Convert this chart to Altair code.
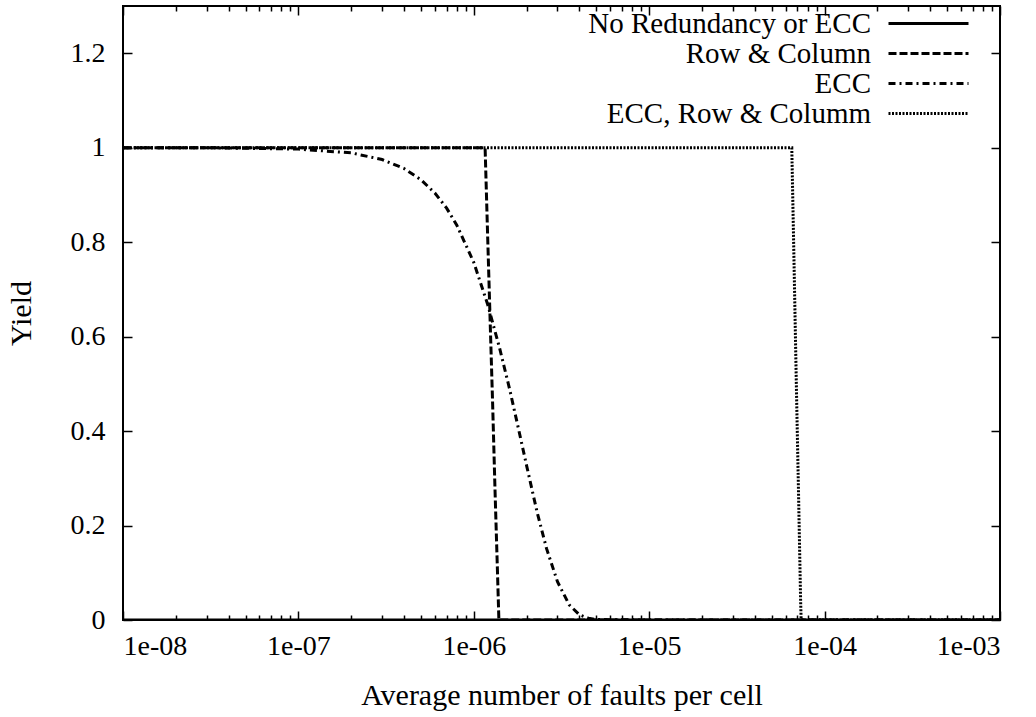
import altair as alt
import pandas as pd

# ---------------- data ----------------
series_names = ["No Redundancy or ECC", "Row & Column", "ECC", "ECC, Row & Columm"]

no_red_x = [1e-8, 1e-7, 1e-6, 1e-5, 1e-4, 1e-3]
no_red_y = [0, 0, 0, 0, 0, 0]

row_col_x = [1e-8, 1e-7, 5e-7, 1e-6, 1.16e-6, 1.20e-6, 1.24e-6, 1.28e-6, 1.32e-6,
             1.36e-6, 1.39e-6, 1e-5, 1e-4, 1e-3]
row_col_y = [1, 1, 1, 1, 1, 0.81, 0.63, 0.46, 0.28, 0.12, 0, 0, 0, 0]

ecc_x = [1e-8, 3e-8, 1e-7, 2e-7, 3e-7, 4e-7, 5e-7, 6e-7, 7e-7, 8e-7, 1e-6, 1.2e-6,
         1.4e-6, 1.6e-6, 1.8e-6, 2e-6, 2.3e-6, 2.6e-6, 3e-6, 3.5e-6, 4e-6, 4.5e-6,
         5e-6, 1e-5, 1e-4, 1e-3]
ecc_y = [1.0, 1.0, 0.997, 0.989, 0.975, 0.956, 0.932, 0.904, 0.872, 0.836, 0.757,
         0.668, 0.577, 0.489, 0.404, 0.327, 0.227, 0.151, 0.081, 0.032, 0.011, 0.004,
         0.001, 0, 0, 0]

ecr_x = [1e-8, 1e-7, 1e-6, 1e-5, 6.5e-5, 6.7e-5, 6.9e-5, 7.1e-5, 7.3e-5, 7.35e-5,
         1e-4, 1e-3]
ecr_y = [1, 1, 1, 1, 1, 0.75, 0.5, 0.27, 0.04, 0, 0, 0]

x_major = [1e-8, 1e-7, 1e-6, 1e-5, 1e-4, 1e-3]
x_tick_labels = ["1e-08", "1e-07", "1e-06", "1e-05", "1e-04", "1e-03"]
x_minor = [m * d for d in [1e-8, 1e-7, 1e-6, 1e-5, 1e-4] for m in [2, 3, 4, 5, 6, 7, 8, 9]]
y_ticks = [0, 0.2, 0.4, 0.6, 0.8, 1, 1.2]

dashes = [[1, 0], [8, 3], [7, 4, 2, 4], [2, 1.5]]

# ---------------- build table ----------------
rows = []
for name, xs, ys in [(series_names[0], no_red_x, no_red_y),
                     (series_names[1], row_col_x, row_col_y),
                     (series_names[2], ecc_x, ecc_y),
                     (series_names[3], ecr_x, ecr_y)]:
    for i, (xv, yv) in enumerate(zip(xs, ys)):
        rows.append({"series": name, "x": xv, "y": yv, "i": i})
df = pd.DataFrame(rows)

FONT = "Liberation Serif"
W, H = 877, 614

xscale = alt.Scale(type="log", domain=[1e-8, 1e-3], nice=False)
yscale = alt.Scale(domain=[0, 1.3], nice=False, zero=False)

label_expr = "[" + ",".join("'%s'" % s for s in x_tick_labels) + "][round(log(datum.value)/LN10)+8]"

lines = alt.Chart(df).mark_line(strokeWidth=3, color="black", clip=True).encode(
    x=alt.X("x:Q", scale=xscale,
            axis=alt.Axis(orient="bottom", values=x_major, labelExpr=label_expr,
                          ticks=False, tickSize=0, domain=False, grid=False,
                          title="Average number of faults per cell",
                          labelFont=FONT, labelFontSize=28, labelColor="black",
                          titleFont=FONT, titleFontSize=30, titleColor="black",
                          titleFontWeight="normal",
                          labelPadding=12, titlePadding=20)),
    y=alt.Y("y:Q", scale=yscale,
            axis=alt.Axis(orient="left", values=y_ticks, format="~g",
                          ticks=False, tickSize=0, domain=False, grid=False,
                          labelFont=FONT, labelFontSize=28, labelColor="black",
                          titleFont=FONT, titleFontSize=30, titleColor="black",
                          titleFontWeight="normal",
                          title="Yield", labelPadding=18, titlePadding=34)),
    strokeDash=alt.StrokeDash(
        "series:N",
        scale=alt.Scale(domain=series_names, range=dashes),
        legend=alt.Legend(title=None, orient="none", legendX=791, legendY=3,
                          symbolType="M-4,0H4", symbolSize=400,
                          symbolStrokeWidth=3, symbolStrokeColor="black",
                          labelAlign="right", labelOffset={"expr": "-72"},
                          labelFontSize=29,
                          labelFont=FONT, labelColor="black", labelLimit=600,
                          rowPadding=0, padding=0)),
    order="i:Q",
)


def xticks(vals, orient, size):
    return alt.Chart(pd.DataFrame({"x": vals})).mark_point(opacity=0).encode(
        x=alt.X("x:Q", scale=xscale,
                axis=alt.Axis(orient=orient, offset=-size, tickSize=size, values=vals,
                              labels=False, domain=False, grid=False, title=None,
                              tickColor="black", tickWidth=1.5)))


def yticks(vals, orient, size):
    return alt.Chart(pd.DataFrame({"y": vals})).mark_point(opacity=0).encode(
        y=alt.Y("y:Q", scale=yscale,
                axis=alt.Axis(orient=orient, offset=-size, tickSize=size, values=vals,
                              labels=False, domain=False, grid=False, title=None,
                              tickColor="black", tickWidth=1.5)))


chart = alt.layer(
    xticks(x_major, "bottom", 9),
    xticks(x_minor, "bottom", 5),
    xticks(x_major, "top", 9),
    xticks(x_minor, "top", 5),
    yticks(y_ticks, "left", 9),
    yticks(y_ticks, "right", 9),
    lines,
).resolve_axis(x="independent", y="independent").properties(
    width=W, height=H,
    background="white",
    autosize=alt.AutoSizeParams(type="none"),
    padding={"left": 123, "top": 6, "right": 36, "bottom": 97},
).configure_view(
    stroke="black", strokeWidth=2
)

chart.save("out.html", embed_options={"renderer": "svg", "actions": False})
